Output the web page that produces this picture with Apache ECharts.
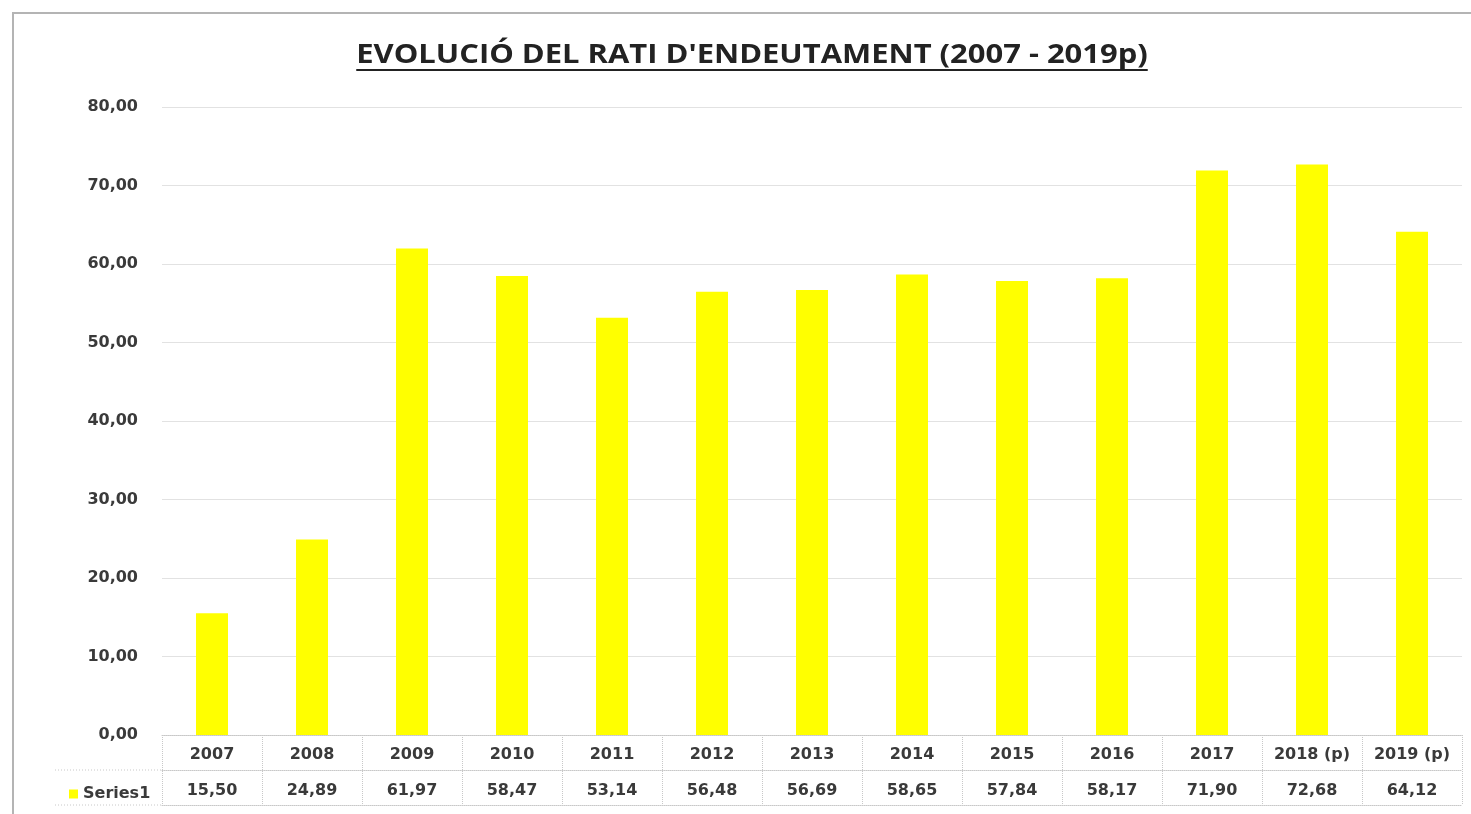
<!DOCTYPE html>
<html>
<head>
<meta charset="utf-8">
<script src="https://cdn.jsdelivr.net/npm/echarts@6/dist/echarts.min.js"></script>
<style>
  html, body { margin: 0; padding: 0; background: #fff; }
  #frame { position: absolute; left: 12px; top: 12px; width: 1459px; height: 802px;
           border-top: 2px solid #b4b4b4; border-left: 2px solid #b4b4b4; }
  #title { position: absolute; left: 0; width: 1504px; top: 35px; text-align: center;
           font-family: "Open Sans", sans-serif; font-weight: 700; font-size: 26px; color: #222;
           text-decoration: underline; text-decoration-thickness: 2px; text-underline-offset: 6px;
           white-space: nowrap; transform: scaleX(1.19); transform-origin: 752px 0; }
  #chart { position: absolute; left: 0; top: 0; width: 1471px; height: 814px; }
</style>
</head>
<body>
<div id="frame"></div>
<div id="chart"></div>
<div id="title">EVOLUCIÓ DEL RATI D'ENDEUTAMENT (2007 - 2019p)</div>
<script>
const years = ['2007', '2008', '2009', '2010', '2011', '2012', '2013', '2014', '2015', '2016', '2017', '2018 (p)', '2019 (p)'];
const ratio = [15.50, 24.89, 61.97, 58.47, 53.14, 56.48, 56.69, 58.65, 57.84, 58.17, 71.90, 72.68, 64.12];
const seriesName = 'Series1';

const fmt = v => v.toFixed(2).replace('.', ',');
const labelText = { fontFamily: 'DejaVu Sans', fontWeight: 'bold', fontSize: 16, color: '#3a3a3a' };
const tableLine = { color: '#c8c8c8', type: 'dotted', width: 1 };

const myChart = echarts.init(document.getElementById('chart'));
const option = {
  animation: false,
  legend: {
    show: true,
    left: 64,
    top: 781,
    itemWidth: 9,
    itemHeight: 9,
    icon: 'rect',
    itemGap: 4,
    textStyle: labelText,
    data: [seriesName]
  },
  grid: {
    left: 162,
    right: 9,
    top: 107,
    bottom: 79
  },
  xAxis: [
    {
      type: 'category',
      data: years,
      position: 'bottom',
      axisLine: { lineStyle: tableLine },
      axisTick: { show: true, length: 70, interval: 0, lineStyle: tableLine },
      axisLabel: Object.assign({ interval: 0, margin: 12 }, labelText)
    },
    {
      type: 'category',
      data: ratio.map(fmt),
      position: 'bottom',
      offset: 35,
      axisLine: { lineStyle: tableLine },
      axisTick: { show: false },
      axisLabel: Object.assign({ interval: 0, margin: 13 }, labelText)
    },
    {
      type: 'category',
      data: years,
      position: 'bottom',
      offset: 70,
      axisLine: { lineStyle: tableLine },
      axisTick: { show: false },
      axisLabel: { show: false }
    }
  ],
  yAxis: {
    type: 'value',
    min: 0,
    max: 80,
    interval: 10,
    axisLine: { show: false },
    axisTick: { show: false },
    splitLine: { lineStyle: { color: '#e2e2e2', width: 1 } },
    axisLabel: Object.assign({ formatter: v => fmt(v), margin: 24 }, labelText)
  },
  graphic: [
    { type: 'line', shape: { x1: 55, y1: 770, x2: 162, y2: 770 }, style: { stroke: '#c8c8c8', lineDash: [1, 2] } },
    { type: 'line', shape: { x1: 55, y1: 805, x2: 162, y2: 805 }, style: { stroke: '#c8c8c8', lineDash: [1, 2] } }
  ],
  series: [
    {
      name: seriesName,
      type: 'bar',
      data: ratio,
      barWidth: 32,
      itemStyle: { color: '#ffff00' }
    }
  ]
};

myChart.setOption(option);
window.addEventListener('resize', function() {
  myChart.resize();
});
</script>
</body>
</html>
